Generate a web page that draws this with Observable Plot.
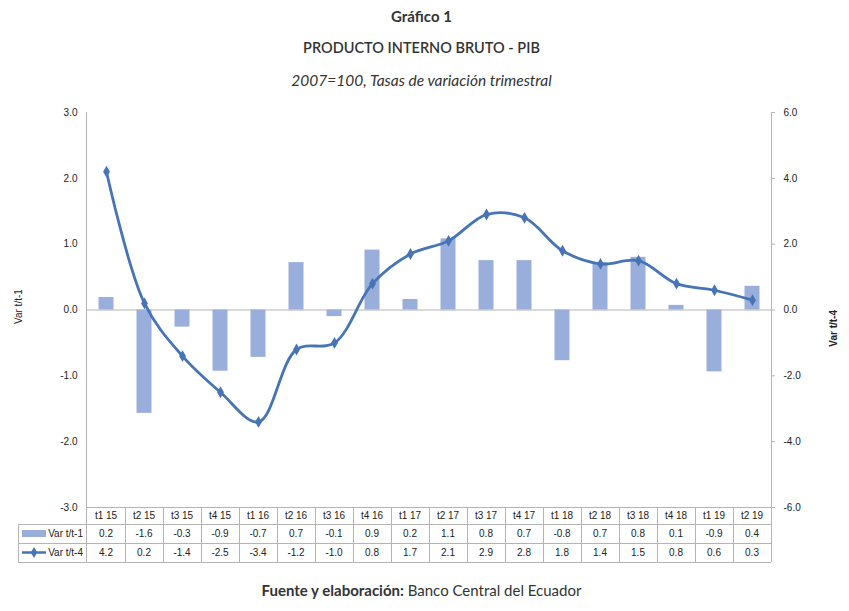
<!DOCTYPE html>
<html>
<head>
<meta charset="utf-8">
<script src="https://cdn.jsdelivr.net/npm/d3@7"></script>
<script src="https://cdn.jsdelivr.net/npm/@observablehq/plot@0.6"></script>
<style>
  html, body { margin: 0; padding: 0; background: #fff; }
  #wrap { width: 849px; height: 611px; position: relative; font-family: Lato, "Noto Sans", sans-serif; color: #333; }
  .hdr { text-align: center; height: 32px; line-height: 32px; font-size: 14px; padding-right: 6px; }
  #t1 { font-weight: 700; font-size: 15px; }
  #t2 { font-weight: 600; font-size: 14.5px; }
  #t3 { font-style: italic; font-size: 15.5px; }
  #foot { position: absolute; top: 581px; left: 0; width: 843px; text-align: center; font-size: 15px; }
  #chart { position: absolute; top: 100px; left: 0; }
</style>
</head>
<body>
<div id="wrap">
  <div class="hdr" id="t1">Gráfico 1</div>
  <div class="hdr" id="t2">PRODUCTO INTERNO BRUTO - PIB</div>
  <div class="hdr" id="t3">2007=100, Tasas de variación trimestral</div>
  <div id="chart"></div>
  <div id="foot"><b>Fuente y elaboración:</b> Banco Central del Ecuador</div>
</div>
<script>
const categories = ["t1 15","t2 15","t3 15","t4 15","t1 16","t2 16","t3 16","t4 16","t1 17","t2 17","t3 17","t4 17","t1 18","t2 18","t3 18","t4 18","t1 19","t2 19"];
const varT1 = [0.2,-1.6,-0.3,-0.9,-0.7,0.7,-0.1,0.9,0.2,1.1,0.8,0.7,-0.8,0.7,0.8,0.1,-0.9,0.4];
// bar heights as drawn (slightly more precise than the rounded table values)
const varT1Bars = [0.19,-1.57,-0.26,-0.93,-0.72,0.72,-0.1,0.91,0.16,1.08,0.75,0.75,-0.77,0.72,0.8,0.07,-0.94,0.36];
const varT4 = [4.2,0.2,-1.4,-2.5,-3.4,-1.2,-1.0,0.8,1.7,2.1,2.9,2.8,1.8,1.4,1.5,0.8,0.6,0.3];
const seriesNames = ["Var t/t-1", "Var t/t-4"];
const leftTicks = [-3,-2,-1,0,1,2,3];
const ratio = 2; // right axis = 2 × left axis

const barColor = "#9aaedb";
const lineColor = "#4674b6";
const gridColor = "#b4b4b4";

const bars = categories.map((c, i) => ({cat: c, v: varT1Bars[i]}));
const pts = categories.map((c, i) => ({cat: c, v: varT4[i]}));

function tableMark(index, scales, values, dim) {
  const g = d3.create("svg:g");
  const x = scales.x;
  const step = x(categories[1]) - x(categories[0]);
  const L = dim.marginLeft, R = dim.width - dim.marginRight;
  const T = dim.marginTop, B = dim.height - dim.marginBottom;
  const rows = [B, B + 17, B + 36, B + 55];
  const legL = 18;
  const line = (x1, y1, x2, y2, c) => g.append("line").attr("x1", x1).attr("y1", y1).attr("x2", x2).attr("y2", y2).attr("stroke", c || gridColor).attr("stroke-width", 1).attr("shape-rendering", "crispEdges");
  // axis lines
  line(L, T, L, rows[3]);
  line(R, T, R, rows[3]);
  // table horizontal lines
  line(L, rows[0], R, rows[0]);
  for (let k = 1; k < 4; k++) line(legL, rows[k], R, rows[k]);
  line(legL, rows[1], legL, rows[3]);
  categories.forEach((c, i) => {
    const x0 = x(c);
    if (i > 0) line(x0, rows[0], x0, rows[3]);
    const cx = x0 + step / 2;
    const t = (row, txt) => g.append("text").attr("x", cx).attr("y", (rows[row] + rows[row + 1]) / 2).attr("dy", "0.35em")
      .attr("text-anchor", "middle").attr("font-size", 10).attr("fill", "#222").text(txt);
    t(0, c);
    t(1, varT1[i].toFixed(1));
    t(2, varT4[i].toFixed(1));
  });
  // legend cells
  const m1 = (rows[1] + rows[2]) / 2, m2 = (rows[2] + rows[3]) / 2;
  g.append("rect").attr("x", 22).attr("y", m1 - 3.5).attr("width", 24).attr("height", 7).attr("fill", barColor);
  g.append("line").attr("x1", 22).attr("x2", 46).attr("y1", m2).attr("y2", m2).attr("stroke", lineColor).attr("stroke-width", 2.5);
  g.append("path").attr("d", d3.symbol(d3.symbolDiamond, 36)()).attr("transform", `translate(34,${m2})`).attr("fill", lineColor);
  [[m1, seriesNames[0]], [m2, seriesNames[1]]].forEach(([yy, s]) =>
    g.append("text").attr("x", L - 3).attr("y", yy).attr("dy", "0.35em").attr("text-anchor", "end").attr("font-size", 10).attr("fill", "#222").text(s));
  return g.node();
}

const chart = Plot.plot({
  width: 849,
  height: 470,
  marginLeft: 86,
  marginRight: 78,
  marginTop: 12,
  marginBottom: 63,
  style: {fontFamily: '"Liberation Sans", Arial, sans-serif', fontSize: "10px", color: "#222", background: "#fff"},
  x: {type: "band", domain: categories, padding: 0, axis: null},
  y: {domain: [-3, 3], axis: null},
  marks: [
    Plot.ruleY([0], {stroke: gridColor}),
    Plot.barY(bars, {x: "cat", y: "v", fill: barColor, insetLeft: 11.5, insetRight: 11.5}),
    Plot.line(pts, {x: "cat", y: d => d.v / ratio, curve: "catmull-rom", stroke: lineColor, strokeWidth: 2.8}),
    Plot.dot(pts, {x: "cat", y: d => d.v / ratio, symbol: "diamond", r: 3.6, fill: lineColor, stroke: null}),
    Plot.axisY({anchor: "left", ticks: leftTicks, tickSize: 0, tickPadding: 9, tickFormat: d => d.toFixed(1), label: null, fill: "#222"}),
    Plot.axisY({anchor: "right", ticks: leftTicks, tickSize: 3, tickPadding: 9, stroke: gridColor, tickFormat: d => (d * ratio).toFixed(1), label: null, fill: "#222"}),
    Plot.text([seriesNames[0]], {frameAnchor: "left", dx: -68, dy: 14, rotate: -90, fontSize: 10, fill: "#222"}),
    Plot.text([seriesNames[1]], {frameAnchor: "right", dx: 62, rotate: -90, fontSize: 10, fontWeight: "bold", fill: "#222"}),
    tableMark
  ]
});
document.getElementById("chart").appendChild(chart);
</script>
</body>
</html>
